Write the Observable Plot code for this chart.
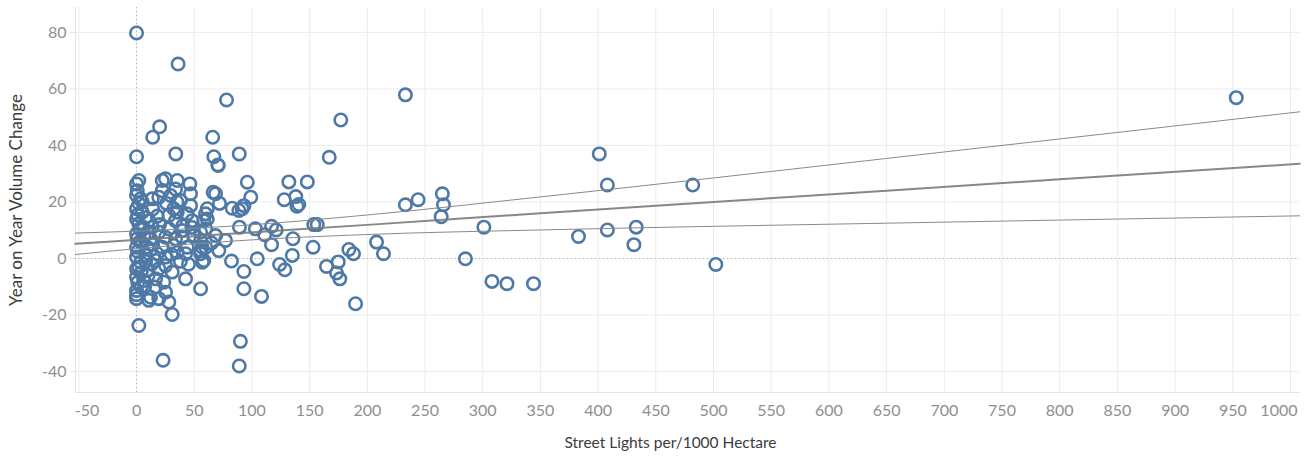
<!DOCTYPE html>
<html>
<head>
<meta charset="utf-8">
<script src="https://cdn.jsdelivr.net/npm/d3@7"></script>
<script src="https://cdn.jsdelivr.net/npm/@observablehq/plot@0.6"></script>
<style>
  html, body { margin: 0; padding: 0; background: #fff; }
  #chart svg { display: block; }
</style>
</head>
<body>
<div id="chart"></div>
<script>
// ---- data ----
const streetLights = [
  0, 36, 78, 233, 177, 14, 20, 66, 0, 34, 67, 70.5, 89, 167, 401, 408, 482, 953,
  233, 244, 265, 266, 264, 301, 285, 308, 321, 344, 383, 408, 433, 431, 502,
  132, 148, 96, 99, 128, 138, 140.6, 139, 153.6, 156.6, 103, 117, 121, 111, 117, 135.5, 153,
  208, 214, 184, 188, 104.6, 135, 124, 128.5, 164.6, 174.8, 173.3, 176.2, 189.8, 108.3, 93, 93, 90, 89,
  70.8, 66.4, 68.5, 71.9, 82.9, 88.7, 93, 91.5, 59.8, 61.3, 58.3, 89.2, 55.5, 68.5, 77.1, 55.5, 58.3,
  71.3, 82.3, 55.5, 61.3,
  2, 0, 22.3, 25.1, 35.3, 46.8, 33.8, 22.3, 19.3, 29.5, 0, 0.6, 3.5, 13.6, 38.1, 32.3, 46.8, 35.3,
  43.9, 28, 33.8, 48.2, 0, 4.9, 0, 2, 10.7, 13.6, 19.3, 28, 39.5, 59.8, 0, 0.6, 6.3, 12.1, 25.1,
  33.8, 39.5, 49.7, 55.5, 0, 9.3, 22.3, 32.3, 43.9, 56.9, 46.2,
  30.9, 42.5, 57, 55.5, 0, 0, 10.7, 12.1, 19.3, 28, 30.9, 2, 0, 25.1, 23.6, 16.5, 6.3, 0, 16.5,
  19.3, 25.1, 9.3, 2, 0, 7.8, 17.9, 25.1, 35.3, 42.5, 16.5, 3.5, 0, 23,
  3, 5, 1, 4, 8, 12, 6, 10, 14, 1, 4, 10, 13, 2, 5, 8, 1, 3, 7, 20, 26, 35, 30, 38, 45, 48, 14, 18,
  40, 65, 60
];
const volumeChange = [
  79.8, 68.8, 56.1, 57.9, 49.0, 42.9, 46.6, 42.9, 36, 37, 36, 33.1, 37, 35.8, 37, 26, 26, 56.9,
  19, 20.8, 22.9, 19, 14.8, 11.1, -0.1, -8.1, -8.9, -8.9, 7.8, 10.1, 11.1, 4.9, -2.1,
  27.1, 27.1, 27, 21.7, 20.8, 21.9, 19.1, 18.5, 12.0, 12.0, 10.5, 11.4, 10.1, 8.4, 4.9, 7.0, 4.0,
  5.8, 1.7, 3.2, 1.7, -0.1, 1.1, -2.1, -4.0, -2.8, -1.2, -5.1, -7.2, -16.0, -13.4, -4.6, -10.7, -29.3, -38,
  32.9, 23.4, 22.9, 19.5, 17.8, 17.0, 18.7, 17.6, 15.8, 14.0, 13.4, 11.1, 9.3, 8.1, 6.4, 2.8, -0.7,
  2.8, -0.9, -10.7, 17.6,
  27.6, 26.4, 27.6, 28.2, 27.6, 22.9, 24.6, 24, 21.7, 22.3, 22.3, 24, 21.1, 21.1, 20.5, 17.6, 18.7, 16.4,
  15.8, 15.2, 13.4, 13.4, 17.6, 16.4, 14, 12.3, 13.4, 11.1, 9.3, 10.5, 9.9, 10.5, 8.7, 7.0, 8.1, 7.0, 7.5,
  7.0, 7.5, 8.1, 6.4, 4, 4, 4, 4.6, 4, 4, 26.4,
  -4.8, -7.2, -1.3, 1.7, -11.3, -14.2, -14.8, -13.7, -14.2, -15.4, -19.8, -23.7, -12.8, -11.9, -8.4, -7.2, -7.8, -6.6, -10.1,
  -3.6, -2.5, -4.2, -3.1, 0.5, 1.1, 1.7, 0.5, 2.2, 1.7, -0.7, -1.3, -3.6, -36,
  10.5, 5.5, 2.5, -5, -1, 3, 11, 9, 5, -8.5, -10, -6, -2, 19.5, 20, 14.5, 15.5, 6, -10, 12, 19.5, 20, 1.5, -1, -2, 11, 17.5, 15,
  11.5, 5.5, 4
];

// trend line and its confidence lines
const trendX     = [-53, 0, 88, 200, 350, 500, 650, 800, 1008];
const trendFit   = [5.2, 6.6, 8.95, 11.9, 16.0, 20.0, 24.0, 28.0, 33.5];
const trendUpper = [9.0, 9.7, 11.6, 15.4, 21.8, 28.5, 35.4, 42.3, 51.9];
const trendLower = [1.4, 3.5, 6.3, 8.5, 10.1, 11.4, 12.5, 13.6, 15.1];

const xTicks = [-50, 0, 50, 100, 150, 200, 250, 300, 350, 400, 450, 500, 550, 600, 650, 700, 750, 800, 850, 900, 950, 1000];
const yTicks = [-40, -20, 0, 20, 40, 60, 80];

const xTitle = "Street Lights per/1000 Hectare";
const yTitle = "Year on Year Volume Change";

// ---- build tables ----
const points = streetLights.map((x, i) => ({x, y: volumeChange[i]}));
const trend = trendX.map((x, i) => ({x, fit: trendFit[i], upper: trendUpper[i], lower: trendLower[i]}));

const tickColor = "#8f8f8f";
const gridColor = "#ececec";
const fmt = d => String(d);

const chart = Plot.plot({
  width: 1309,
  height: 457,
  marginLeft: 75,
  marginRight: 10,
  marginTop: 7,
  marginBottom: 65,
  style: {fontFamily: "Lato, 'Open Sans', sans-serif", fontSize: "16px", background: "#fff"},
  x: {domain: [-52.9, 1007.8], label: null},
  y: {domain: [-47.4, 88.8], label: null},
  marks: [
    Plot.gridX(xTicks, {stroke: gridColor, strokeOpacity: 1, strokeWidth: 1}),
    Plot.gridY(yTicks, {stroke: gridColor, strokeOpacity: 1, strokeWidth: 1}),
    Plot.frame({anchor: "left", stroke: "#e4e4e4"}),
    Plot.frame({anchor: "bottom", stroke: "#e4e4e4"}),
    Plot.ruleX([0], {stroke: "#b5b5b5", strokeDasharray: "1,3"}),
    Plot.ruleY([0], {stroke: "#b5b5b5", strokeDasharray: "1,3"}),
    Plot.axisX(xTicks.filter(d => d !== -50 && d !== 1000), {tickSize: 0, tickPadding: 12, fill: tickColor, tickFormat: fmt, label: null}),
    Plot.axisX([-50], {tickSize: 0, tickPadding: 12, fill: tickColor, textAnchor: "start", dx: -4, tickFormat: fmt, label: null}),
    Plot.axisX([1000], {tickSize: 0, tickPadding: 12, fill: tickColor, textAnchor: "end", dx: 7, tickFormat: fmt, label: null}),
    Plot.axisY(yTicks, {tickSize: 5, tickPadding: 4, stroke: "#e4e4e4", fill: tickColor, tickFormat: fmt, label: null}),
    Plot.dot(points, {x: "x", y: "y", r: 6.2, stroke: "#4e79a7", strokeWidth: 2.6, fill: "none"}),
    Plot.line(trend, {x: "x", y: "upper", stroke: "#8a8a8a", strokeWidth: 1, curve: "monotone-x"}),
    Plot.line(trend, {x: "x", y: "lower", stroke: "#8a8a8a", strokeWidth: 1, curve: "monotone-x"}),
    Plot.line(trend, {x: "x", y: "fit", stroke: "#7a7a7a", strokeWidth: 2, strokeOpacity: 0.9, curve: "monotone-x"}),
    Plot.text([xTitle], {frameAnchor: "bottom", dx: -17, dy: 51, fill: "#3c3c3c", fontSize: 15.5, textAnchor: "middle", lineAnchor: "middle"}),
    Plot.text([yTitle], {frameAnchor: "left", dx: -59, rotate: -90, fill: "#3c3c3c", fontSize: 17, textAnchor: "middle", lineAnchor: "middle"})
  ]
});
document.getElementById("chart").appendChild(chart);
</script>
</body>
</html>
